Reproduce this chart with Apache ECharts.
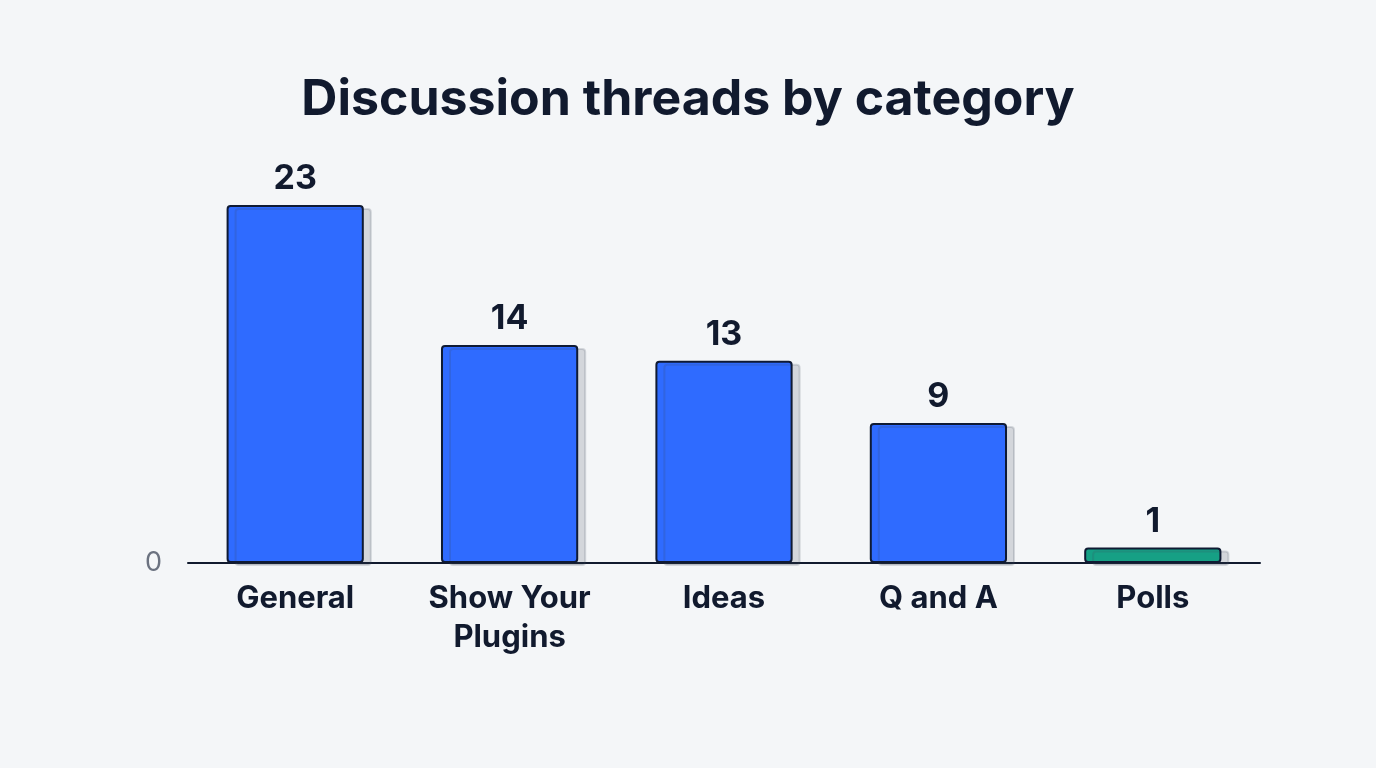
<!DOCTYPE html>
<html>
<head>
<meta charset="utf-8">
<style>
  html, body { margin: 0; padding: 0; background: #f4f6f8; }
  #chart { width: 1376px; height: 768px; }
</style>
<script src="https://cdn.jsdelivr.net/npm/echarts@6/dist/echarts.min.js"></script>
</head>
<body>
<div id="chart"></div>
<script>
const categories = ["General", "Show Your\nPlugins", "Ideas", "Q and A", "Polls"];
const threadCounts = [23, 14, 13, 9, 1];
const barColors = ["#2f6bff", "#2f6bff", "#2f6bff", "#2f6bff", "#16a085"];

const chart = echarts.init(document.getElementById("chart"));
chart.setOption({
    animation: false,
    backgroundColor: "#f4f6f8",
    textStyle: { fontFamily: "Inter" },
    title: {
        text: "Discussion threads by category",
        left: "center",
        top: 70,
        textStyle: { fontFamily: "Inter", fontSize: 50, fontWeight: "bold", color: "#111a2e" },
    },
    grid: { left: 188, right: 116, top: 205, bottom: 205 },
    xAxis: {
        type: "category",
        data: categories,
        axisLine: { lineStyle: { color: "#111a2e", width: 2 } },
        axisTick: { show: false },
        axisLabel: {
            color: "#111a2e",
            fontSize: 31,
            fontWeight: "bold",
            lineHeight: 39,
            margin: 16,
        },
    },
    yAxis: {
        type: "value",
        min: 0,
        max: 23,
        interval: 23,
        axisLine: { show: false },
        axisTick: { show: false },
        splitLine: { show: false },
        axisLabel: {
            color: "#6b7280",
            fontSize: 27,
            margin: 26,
            formatter: function (v) { return v === 0 ? "0" : ""; },
        },
    },
    series: [
        {
            type: "bar",
            barWidth: "64%",
            data: threadCounts.map(function (v, i) {
                return { value: v, itemStyle: { color: barColors[i] } };
            }),
            itemStyle: {
                borderColor: "#0f1a33",
                borderWidth: 2,
                borderRadius: 3,
                shadowColor: "rgba(60, 70, 90, 0.18)",
                shadowOffsetX: 8,
                shadowOffsetY: 3,
                shadowBlur: 0,
            },
            label: {
                show: true,
                position: "top",
                distance: 9,
                color: "#111a2e",
                fontSize: 34,
                fontWeight: "bold",
            },
        },
    ],
});
</script>
</body>
</html>
